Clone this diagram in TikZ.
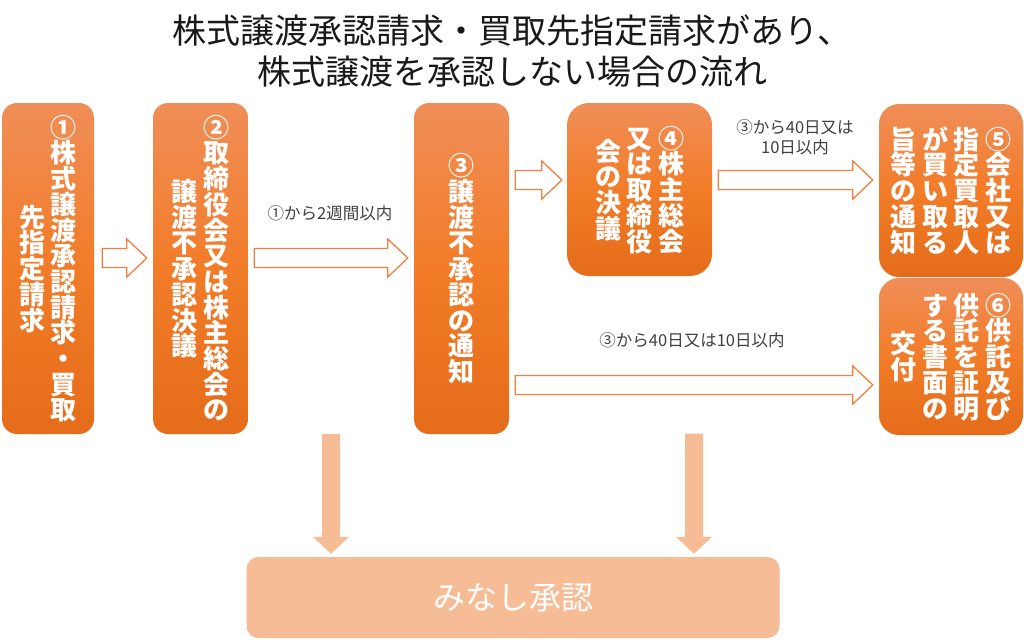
\documentclass[tikz,border=0pt]{standalone}
\usepackage{fontspec}
\setmainfont{Noto Sans CJK JP}
\usetikzlibrary{calc,positioning}

\definecolor{boxtop}{RGB}{240,142,88}
\definecolor{boxmid}{RGB}{242,124,40}
\definecolor{boxbot}{RGB}{229,108,26}
\definecolor{paleorange}{RGB}{245,188,150}
\definecolor{outlineorange}{RGB}{240,128,64}
\definecolor{labelgray}{RGB}{64,64,64}

% vertical column of characters
\makeatletter
\def\tateend{\tateend}
\newcommand\tatechar[1]{\smash{\raisebox{-5pt}{#1}}}
\def\tate#1{\def\tatebuf{}\tatescan#1\tateend
  \begin{tabular}[c]{@{}c@{}}\tatebuf\end{tabular}}
\def\tatescan#1{\ifx#1\tateend\else
  \ifx\tatebuf\empty\def\tatebuf{\tatechar{#1}}\else
  \expandafter\def\expandafter\tatebuf\expandafter{\tatebuf\\\tatechar{#1}}\fi
  \expandafter\tatescan\fi}
\makeatother
\newcommand\colgap{\hskip5.5pt}

% hollow block arrow pointing right
\newcommand\hollowarrow[2]{%
  \draw[hollowarrow] let \p1=#1, \p2=#2 in
    (\x1,\y1+9.5pt) -- (\x2-20pt,\y1+9.5pt) -- (\x2-20pt,\y1+19pt) -- (\x2,\y1)
    -- (\x2-20pt,\y1-19pt) -- (\x2-20pt,\y1-9.5pt) -- (\x1,\y1-9.5pt) -- cycle;}
% solid block arrow pointing down
\newcommand\fallarrow[2]{%
  \fill[fallarrow] let \p1=#1, \p2=#2 in
    (\x1-9pt,\y1) -- (\x1-9pt,\y2+17pt) -- (\x1-18pt,\y2+17pt) -- (\x1,\y2)
    -- (\x1+18pt,\y2+17pt) -- (\x1+9pt,\y2+17pt) -- (\x1+9pt,\y1) -- cycle;}

\tikzset{
  stepbox/.style={rounded corners=15pt, top color=boxtop, bottom color=boxbot,
    middle color=boxmid, text=white, inner sep=0pt,
    font=\fontsize{26pt}{25.7pt}\selectfont\bfseries},
  resultbox/.style={rounded corners=12pt, fill=paleorange, text=white,
    inner sep=0pt, font=\fontsize{32pt}{36pt}\selectfont},
  steplabel/.style={text=labelgray, align=center, inner sep=0pt,
    font=\fontsize{16.5pt}{20pt}\selectfont},
  hollowarrow/.style={draw=outlineorange, fill=white, line width=1.3pt},
  fallarrow/.style={fill=paleorange},
}

\begin{document}
\begin{tikzpicture}[x=1pt, y=-1pt]
  \fill[white] (0,0) rectangle (1024,640);
  \useasboundingbox (0,0) rectangle (1024,640);

  % Title
  \node[align=center, inner sep=0pt, text=black!90,
    font=\fontsize{34pt}{41pt}\selectfont] (title) at (512,51)
    {株式譲渡承認請求・買取先指定請求があり、\\株式譲渡を承認しない場合の流れ};

  % Step boxes
  \node[stepbox, minimum width=92pt, minimum height=331pt] (b1) at (48,268.5)
    {\tate{先指定請求}\colgap\tate{①株式譲渡承認請求・買取}};
  \node[stepbox, minimum width=95pt, minimum height=331pt] (b2) at (200.5,268.5)
    {\tate{譲渡不承認決議}\colgap\tate{②取締役会又は株主総会の}};
  \node[stepbox, minimum width=95pt, minimum height=331pt] (b3) at (461.5,268.5)
    {\tate{③譲渡不承認の通知}};
  \node[stepbox, rounded corners=22pt, minimum width=145pt, minimum height=173pt] (b4) at (639.5,189.5)
    {\tate{会の決議}\colgap\tate{又は取締役}\colgap\tate{④株主総会}};
  \node[stepbox, rounded corners=20pt, minimum width=144pt, minimum height=173pt] (b5) at (951,190.5)
    {\tate{旨等の通知}\colgap\tate{が買い取る}\colgap\tate{指定買取人}\colgap\tate{⑤会社又は}};
  \node[stepbox, rounded corners=20pt, minimum width=144pt, minimum height=157pt] (b6) at (951,356.5)
    {\tate{交付}\colgap\tate{する書面の}\colgap\tate{供託を証明}\colgap\tate{⑥供託及び}};

  % Result box
  \node[resultbox, minimum width=533pt, minimum height=81pt] (result) at (513,597.5) {みなし承認};

  % Labels
  \node[steplabel] (lab1) at (330,213) {①から2週間以内};
  \node[steplabel] (lab2) at (795,137) {③から40日又は\\10日以内};
  \node[steplabel] (lab3) at (692,340) {③から40日又は10日以内};

  % Hollow arrows
  \hollowarrow{($(b1.east)+(8,-10.5)$)}{($(b2.west)+(-6,-10.5)$)}
  \hollowarrow{($(b2.east)+(6,-10.5)$)}{($(b3.west)+(-6,-10.5)$)}
  \hollowarrow{($(b3.east |- b4.west)+(6,-9.5)$)}{($(b4.west)+(-5,-9.5)$)}
  \hollowarrow{($(b4.east)+(6,-9.5)$)}{($(b5.west)+(-6,-10.5)$)}
  \hollowarrow{($(b3.east |- b6.west)+(6,28.5)$)}{($(b6.west)+(-6,28.5)$)}

  % Down arrows
  \coordinate (d1) at ($(b2.south east)!0.5!(b3.south west)$);
  \coordinate (d2) at ($(b3.south east)!0.5!(b6.south west)+(0,-1)$);
  \fallarrow{(d1)}{($(d1 |- result.north)+(0,-3)$)}
  \fallarrow{(d2)}{($(d2 |- result.north)+(0,-3)$)}
\end{tikzpicture}
\end{document}
